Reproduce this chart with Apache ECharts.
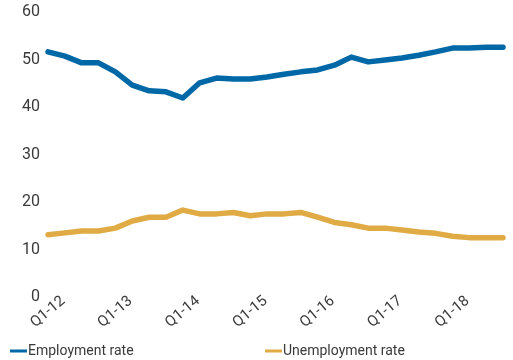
<!DOCTYPE html>
<html>
<head>
<meta charset="utf-8">
<script src="https://cdn.jsdelivr.net/npm/echarts@6/dist/echarts.min.js"></script>
<style>
  html, body { margin: 0; padding: 0; background: #fff; }
  #chart { width: 513px; height: 360px; }
</style>
</head>
<body>
<div id="chart"></div>
<script>
// Quarters Q1-12 .. Q4-18
const quarters = [];
for (let y = 12; y <= 18; y++) {
  for (let q = 1; q <= 4; q++) quarters.push('Q' + q + '-' + y);
}

// Rates in percent, one value per quarter
const employmentRate = [
  51.6, 50.7, 49.3, 49.3, 47.4, 44.6, 43.4, 43.2,
  41.9, 45.1, 46.1, 45.9, 45.9, 46.3, 46.9, 47.4,
  47.8, 48.8, 50.5, 49.5, 49.9, 50.3, 50.9, 51.6,
  52.4, 52.4, 52.6, 52.6
];
const unemploymentRate = [
  13.1, 13.5, 13.9, 13.9, 14.5, 16.0, 16.8, 16.8,
  18.3, 17.5, 17.5, 17.8, 17.1, 17.5, 17.5, 17.8,
  16.8, 15.7, 15.2, 14.5, 14.5, 14.1, 13.7, 13.4,
  12.8, 12.5, 12.5, 12.5
];

const seriesNames = ['Employment rate', 'Unemployment rate'];
const seriesColors = ['#0068a6', '#e0ab45'];

const FONT = 'Roboto, sans-serif';
const TEXT = '#3a3a3a';

const chart = echarts.init(document.getElementById('chart'), null, { renderer: 'canvas' });

chart.setOption({
  animation: false,
  backgroundColor: '#fff',
  grid: { left: 48, right: 10, top: 12, bottom: 63, containLabel: false },
  legend: [
    {
      data: [seriesNames[0]], left: 5, top: 339,
      icon: 'rect', itemWidth: 17, itemHeight: 3, itemGap: 2,
      textStyle: { color: TEXT, fontSize: 14, fontFamily: FONT, padding: [0, 0, 0, -4] }
    },
    {
      data: [seriesNames[1]], left: 260, top: 339,
      icon: 'rect', itemWidth: 17, itemHeight: 3, itemGap: 2,
      textStyle: { color: TEXT, fontSize: 14, fontFamily: FONT, padding: [0, 0, 0, -4] }
    }
  ],
  xAxis: {
    type: 'category',
    data: quarters,
    boundaryGap: false,
    axisLine: { show: false },
    axisTick: { show: false },
    splitLine: { show: false },
    axisLabel: {
      interval: 3,
      rotate: 40,
      align: 'center',
      verticalAlign: 'middle',
      margin: 15,
      color: TEXT,
      fontSize: 15,
      fontFamily: FONT
    }
  },
  yAxis: {
    type: 'value',
    min: 0,
    max: 60,
    interval: 10,
    axisLine: { show: false },
    axisTick: { show: false },
    splitLine: { show: false },
    axisLabel: { color: TEXT, fontSize: 16, fontFamily: FONT, margin: 8 }
  },
  series: [
    {
      name: seriesNames[0], type: 'line', data: employmentRate,
      symbol: 'none', color: seriesColors[0],
      lineStyle: { width: 5.5, color: seriesColors[0], cap: 'round', join: 'round' }
    },
    {
      name: seriesNames[1], type: 'line', data: unemploymentRate,
      symbol: 'none', color: seriesColors[1],
      lineStyle: { width: 5.5, color: seriesColors[1], cap: 'round', join: 'round' }
    }
  ]
});
</script>
</body>
</html>
